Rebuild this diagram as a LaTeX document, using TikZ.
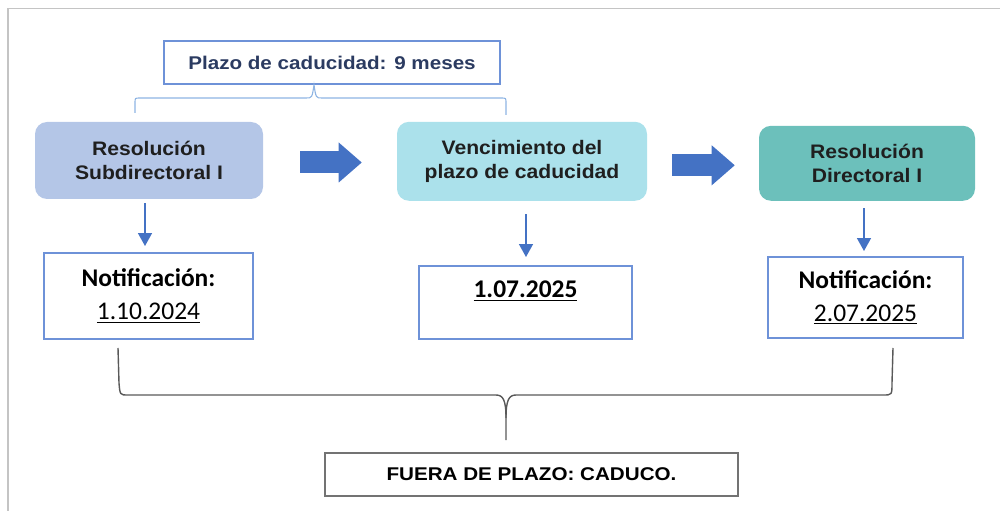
\documentclass[tikz,border=0pt]{standalone}
\usepackage{fontspec}
\setmainfont{Liberation Sans}
\newfontfamily\widefont[FakeStretch=1.08]{Liberation Sans}
\newfontfamily\plazofont[FakeStretch=1.12]{Liberation Sans}
\newfontfamily\califont{Carlito}
\usetikzlibrary{calc, arrows.meta}

\definecolor{subdir}{HTML}{B4C6E7}
\definecolor{venc}{HTML}{ABE1EB}
\definecolor{direc}{HTML}{6CC0BB}
\definecolor{flecha}{HTML}{4472C4}
\definecolor{borde}{HTML}{6E92D8}
\definecolor{llave}{HTML}{8EB4E3}
\definecolor{marco}{HTML}{C4C4C4}
\definecolor{azuloscuro}{HTML}{2B3B61}

\tikzset{
	etapa/.style={rectangle, rounded corners=12*\px, align=center, inner sep=0pt, text=black!88,
		font=\widefont\bfseries\fontsize{13.9pt}{16.7pt}\selectfont},
	notif/.style={rectangle, draw=borde, line width=1.4pt, align=center, inner sep=0pt,
		font=\califont\fontsize{18.1pt}{23.5pt}\selectfont},
	plazo/.style={rectangle, draw=borde, line width=1.4pt, inner sep=0pt, text=azuloscuro,
		font=\plazofont\bfseries\fontsize{13.1pt}{15pt}\selectfont},
	caduco/.style={rectangle, draw=black!55, line width=1.5pt, inner sep=0pt,
		font=\plazofont\bfseries\fontsize{13.1pt}{15pt}\selectfont},
	bloque/.style={draw=flecha, line width=22*\px, -{Triangle[length=23*\px, width=40*\px, line width=0pt]}},
	flechita/.style={draw=flecha, line width=1.5*\px, -{Triangle[length=13*\px, width=14*\px]}},
	llavesup/.style={draw=llave, line width=1.1*\px},
	llaveinf/.style={draw=black!65, line width=1.4*\px},
	marco/.style={draw=marco, line width=1.6*\px}
}

\begin{document}
\begin{tikzpicture}[x=0.025cm, y=-0.025cm]
	\def\px{0.025cm};
	
	\useasboundingbox (0,0) rectangle (1000,511);
	\draw [marco] (8,511) -- (8,8.5) -- (1000,8.5);
	
	% plazo
	\node [plazo, minimum width=336*\px, minimum height=43*\px] (pz) at (332,62.5) {Plazo de caducidad: 9 meses};
	
	% etapas
	\node [etapa, fill=subdir, minimum width=228*\px, minimum height=77*\px] (rsd) at (149,160.5) {Resolución\\Subdirectoral I};
	\node [etapa, fill=venc, minimum width=250*\px, minimum height=79*\px] (vpc) at (522,161.3) {Vencimiento del\\plazo de caducidad};
	\node [etapa, fill=direc, minimum width=216*\px, minimum height=75*\px] (rdi) at (867,163.3) {Resolución\\Directoral I};
	
	% fechas
	\node [notif, minimum width=209*\px, minimum height=86*\px] (n1) at (148.5,296) {\textbf{Notificación:}\\\underline{1.10.2024}};
	\node [notif, minimum width=213*\px, text height=32*\px, text depth=41*\px] (n2) at (525.5,302.5) {\textbf{\underline{1.07.2025}}};
	\node [notif, minimum width=195*\px, minimum height=81*\px] (n3) at (865.5,297.5) {\textbf{Notificación:}\\\underline{2.07.2025}};
	
	\node [caduco, minimum width=413*\px, minimum height=43*\px] (fp) at (531.5,474.5) {FUERA DE PLAZO: CADUCO.};
	
	\draw [bloque] ($(rsd.east)+(37,2)$) -- ($(rsd.east -| vpc.west)+(-35,2)$);
	\draw [bloque] ($(vpc.east)+(25,4)$) -- ($(vpc.east -| rdi.west)+(-24,4)$);
	
	\draw [flechita] ($(rsd.south)+(-4,4)$) coordinate (a1) -- ($(a1 |- n1.north)+(0,-6)$);
	\draw [flechita] ($(vpc.south)+(4,13)$) coordinate (a2) -- ($(a2 |- n2.north)+(0,-8)$);
	\draw [flechita] ($(rdi.south)+(-3,7)$) coordinate (a3) -- ($(a3 |- n3.north)+(0,-5)$);
	
	% llaves
	\coordinate (ps) at (314,85);
	\draw [llavesup] (135,113) -- (135,103) .. controls (135,98) .. (140,98) -- (306,98) .. controls (312,98) .. (ps) .. controls (316,98) .. (322,98) -- (501,98) .. controls (506,98) .. (506,103) -- (506,115);
	
	\coordinate (fs) at (506,440);
	\draw [llaveinf] (118,348) -- (119,383) .. controls (120,395) .. (128,395) -- (496,395) .. controls (503,395) and (506,400) .. (506,418) -- (fs);
	\draw [llaveinf] (506,418) .. controls (506,400) and (509,395) .. (516,395) -- (883,395) .. controls (892,395) .. (892,383) -- (893,348);
\end{tikzpicture}
\end{document}
